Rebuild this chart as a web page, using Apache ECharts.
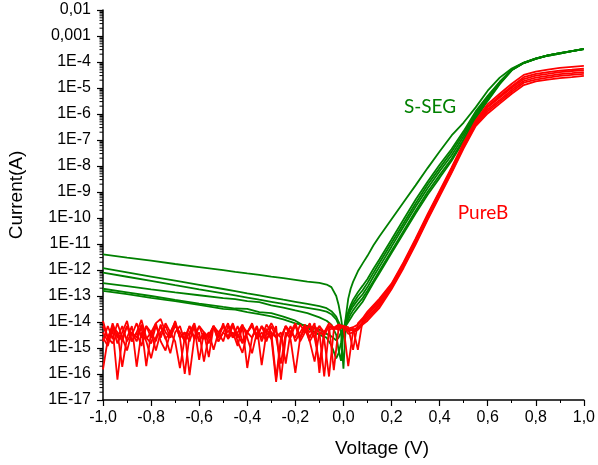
<!DOCTYPE html>
<html>
<head>
<meta charset="utf-8">
<script src="https://cdn.jsdelivr.net/npm/echarts@6/dist/echarts.min.js"></script>
<style>
  html, body { margin: 0; padding: 0; background: #fff; }
  #chart { width: 598px; height: 465px; }
</style>
</head>
<body>
<div id="chart"></div>
<script>
// ---- x tick labels ----
const voltageTicks = [-1.0, -0.8, -0.6, -0.4, -0.2, 0.0, 0.2, 0.4, 0.6, 0.8, 1.0];

// ---- S-SEG diodes: sweep voltages (V) ----
const segVoltage = [
  -1.0, -0.9, -0.8, -0.7, -0.6, -0.5, -0.45, -0.4, -0.35, -0.3, -0.25, -0.2, -0.15, -0.1, -0.07, -0.05, -0.03, -0.02, -0.01, 0.0,
  0.01, 0.02, 0.03, 0.04, 0.06, 0.08, 0.1, 0.125, 0.15, 0.2, 0.25, 0.3, 0.35, 0.4, 0.45, 0.5, 0.55, 0.6, 0.65, 0.7, 0.75, 0.8, 0.85, 0.9, 0.95, 1.0
];
// S-SEG currents (A)
const segI1 = [
  4.0e-12, 3.0e-12, 2.3e-12, 1.7e-12, 1.29e-12, 9.8e-13, 8.5e-13, 7.4e-13, 6.5e-13, 5.6e-13, 4.9e-13, 4.2e-13, 3.6e-13, 3.2e-13, 2.75e-13, 2.2e-13, 1.0e-13, 4.5e-14, 1.4e-14, 3.2e-15,
  1.6e-14, 7.9e-14, 1.9e-13, 3.5e-13, 8.9e-13, 1.8e-12, 3.5e-12, 8.9e-12, 2.0e-11, 8.9e-11, 4.0e-10, 1.8e-9, 8.3e-9, 3.6e-8, 1.5e-7, 4.7e-7, 1.8e-6, 7.9e-6, 2.5e-5, 5.6e-5, 9.5e-5, 1.38e-4, 1.78e-4, 2.2e-4, 2.6e-4, 3.2e-4
];
const segI2 = [
  1.17e-12, 8.1e-13, 5.6e-13, 3.9e-13, 2.7e-13, 1.86e-13, 1.55e-13, 1.26e-13, 1.05e-13, 8.7e-14, 7.2e-14, 6.0e-14, 5.0e-14, 4.1e-14, 3.4e-14, 2.6e-14, 1.6e-14, 1.0e-14, 6.3e-15, 5.0e-15,
  1.26e-14, 2.5e-14, 4.5e-14, 7.1e-14, 1.4e-13, 2.5e-13, 4.5e-13, 1.12e-12, 2.6e-12, 1.5e-11, 8.7e-11, 5.0e-10, 2.5e-9, 1.12e-8, 4.5e-8, 2.2e-7, 1.26e-6, 5.0e-6, 1.74e-5, 5.1e-5, 9.3e-5, 1.35e-4, 1.78e-4, 2.2e-4, 2.6e-4, 3.15e-4
];
const segI3 = [
  7.9e-13, 5.5e-13, 3.8e-13, 2.6e-13, 1.8e-13, 1.26e-13, 1.05e-13, 8.7e-14, 7.2e-14, 6.0e-14, 5.0e-14, 4.2e-14, 3.5e-14, 2.9e-14, 2.5e-14, 2.0e-14, 1.26e-14, 7.9e-15, 4.0e-15, 1.6e-16,
  7.9e-15, 2.0e-14, 3.5e-14, 5.2e-14, 1.0e-13, 1.66e-13, 3.2e-13, 7.9e-13, 1.9e-12, 1.1e-11, 6.3e-11, 3.6e-10, 1.9e-9, 8.3e-9, 3.5e-8, 1.78e-7, 1.05e-6, 4.5e-6, 1.66e-5, 5.0e-5, 9.3e-5, 1.35e-4, 1.78e-4, 2.2e-4, 2.6e-4, 3.2e-4
];
const segI4 = [
  3.1e-13, 2.4e-13, 1.8e-13, 1.38e-13, 1.07e-13, 8.3e-14, 7.6e-14, 6.3e-14, 5.8e-14, 4.4e-14, 3.6e-14, 2.8e-14, 2.2e-14, 1.5e-14, 1.12e-14, 7.9e-15, 3.2e-15, 7.9e-16, 3.2e-16, 4.0e-15,
  1.0e-14, 1.78e-14, 2.8e-14, 4.0e-14, 7.1e-14, 1.17e-13, 2.2e-13, 5.6e-13, 1.35e-12, 7.9e-12, 4.7e-11, 2.7e-10, 1.4e-9, 6.3e-9, 2.6e-8, 1.4e-7, 8.9e-7, 4.0e-6, 1.58e-5, 5.0e-5, 9.3e-5, 1.35e-4, 1.78e-4, 2.2e-4, 2.6e-4, 3.2e-4
];
const segI5 = [
  1.9e-13, 1.38e-13, 1.0e-13, 7.1e-14, 5.1e-14, 3.8e-14, 3.3e-14, 3.2e-14, 2.4e-14, 2.2e-14, 1.6e-14, 1.12e-14, 6.0e-15, 3.2e-15, 2.5e-15, 1.26e-15, 4.0e-16, 6.3e-16, 1.6e-15, 5.0e-15,
  7.9e-15, 1.26e-14, 2.0e-14, 2.8e-14, 5.0e-14, 8.3e-14, 1.58e-13, 3.8e-13, 9.3e-13, 5.4e-12, 3.2e-11, 1.86e-10, 1.0e-9, 4.5e-9, 1.9e-8, 1.07e-7, 7.4e-7, 3.5e-6, 1.5e-5, 4.9e-5, 9.1e-5, 1.32e-4, 1.74e-4, 2.1e-4, 2.6e-4, 3.1e-4
];
const segI6 = [
  1.58e-13, 1.17e-13, 8.5e-14, 6.3e-14, 4.6e-14, 3.2e-14, 3.0e-14, 2.4e-14, 2.0e-14, 1.66e-14, 1.26e-14, 8.9e-15, 7.1e-15, 5.0e-15, 3.5e-15, 2.8e-15, 2.0e-15, 2.5e-15, 4.0e-15, 6.3e-15,
  7.1e-15, 1.0e-14, 1.4e-14, 2.0e-14, 3.5e-14, 6.0e-14, 1.26e-13, 3.2e-13, 7.6e-13, 4.5e-12, 2.6e-11, 1.5e-10, 7.9e-10, 3.5e-9, 1.58e-8, 9.3e-8, 6.6e-7, 3.2e-6, 1.4e-5, 4.8e-5, 9.1e-5, 1.32e-4, 1.74e-4, 2.1e-4, 2.6e-4, 3.1e-4
];

// ---- PureB diodes: sweep voltages (V) ----
const pureVoltage = [
  -1.00, -0.98, -0.96, -0.94, -0.92, -0.90, -0.88, -0.86, -0.84, -0.82, -0.80, -0.78, -0.76, -0.74, -0.72, -0.70, -0.68,
  -0.66, -0.64, -0.62, -0.60, -0.58, -0.56, -0.54, -0.52, -0.50, -0.48, -0.46, -0.44, -0.42, -0.40, -0.38, -0.36, -0.34,
  -0.32, -0.30, -0.28, -0.26, -0.24, -0.22, -0.20, -0.18, -0.16, -0.14, -0.12, -0.10, -0.08, -0.06, -0.04, -0.02, 0.00,
  0.02, 0.04, 0.06, 0.08, 0.10, 0.125, 0.15, 0.20, 0.25, 0.30, 0.35, 0.40, 0.45, 0.50, 0.55, 0.60, 0.65, 0.70, 0.75, 0.80, 0.85, 0.90, 0.95, 1.00
];
// PureB currents (A)
const pureI1 = [
  1.5e-16, 2.2e-15, 7e-15, 1.5e-15, 4e-15, 1.1e-14, 1.8e-15, 4e-15, 1.2e-15, 7e-15, 2.5e-15, 9e-15, 1.8e-15, 8e-16, 4e-15, 9e-15, 2.5e-15,
  1e-16, 3.2e-15, 7e-15, 1.8e-15, 4e-15, 1.5e-15, 7e-15, 2.5e-15, 9e-15, 2.2e-15, 4e-15, 1.2e-15, 7e-15, 1.7e-16, 2.5e-15, 7e-15, 1.8e-15,
  5.5e-15, 2.5e-15, 5e-17, 1.8e-15, 7e-15, 2.5e-15, 8e-15, 1.8e-15, 4e-15, 9e-15, 2.5e-15, 2.5e-16, 4e-15, 7e-15, 6e-15, 5.5e-15, 7e-15,
  6.3e-15, 8.5e-16, 8.9e-15, 1.4e-14, 2.5e-14, 4.5e-14, 7.9e-14, 3.0e-13, 2.0e-12, 1.6e-11, 1.4e-10, 1.1e-9, 8.9e-9, 7.9e-8, 5.6e-7, 2.4e-6, 6.0e-6, 1.45e-5, 3.2e-5, 4.3e-5, 5.1e-5, 5.9e-5, 6.5e-5, 7.1e-5
];
const pureI2 = [
  2.5e-15, 1.2e-15, 5.5e-15, 6e-17, 2.5e-15, 7e-15, 1.8e-15, 4e-15, 1.2e-14, 2.5e-15, 1.5e-15, 7e-15, 2.5e-15, 9e-15, 4e-15, 1.8e-15, 1.7e-16,
  2.5e-15, 7e-15, 2.2e-15, 4e-15, 3e-16, 3.2e-15, 7e-15, 1.8e-15, 4e-15, 9e-15, 2.5e-15, 7e-15, 1.8e-15, 4e-15, 2.5e-15, 7e-15, 2.2e-16,
  4e-15, 2.2e-15, 7e-15, 6e-17, 2.5e-15, 7e-15, 1.8e-15, 4e-15, 8e-15, 2.5e-15, 7e-15, 4e-15, 8e-17, 5e-15, 6e-15, 8e-15, 6e-15,
  5.6e-15, 6.3e-15, 7.9e-15, 1.26e-14, 2.1e-14, 3.8e-14, 6.8e-14, 2.7e-13, 1.8e-12, 1.4e-11, 1.26e-10, 1.0e-9, 7.9e-9, 7.1e-8, 5.0e-7, 2.0e-6, 4.9e-6, 1.17e-5, 2.6e-5, 3.5e-5, 4.1e-5, 4.7e-5, 5.1e-5, 5.6e-5
];
const pureI3 = [
  7e-15, 2.5e-15, 1.5e-15, 4e-15, 1.9e-16, 2.5e-15, 7e-15, 1.9e-16, 4e-15, 1.8e-15, 4e-16, 2.5e-15, 7e-15, 2.2e-15, 4e-15, 1e-14, 2.5e-15,
  4e-15, 9e-17, 2.5e-15, 7e-15, 2.2e-15, 4e-15, 8.5e-16, 4e-15, 7e-15, 2.5e-15, 8e-15, 1.8e-15, 6.5e-16, 4e-15, 7e-15, 2.5e-15, 7e-15,
  2.2e-15, 4e-15, 2.5e-15, 2.5e-16, 4e-15, 2.2e-15, 1.1e-16, 2.5e-15, 7e-15, 1.8e-15, 4e-15, 7e-15, 2.2e-15, 8e-17, 5e-15, 7e-15, 6e-15,
  5.0e-15, 5.6e-15, 8.5e-16, 1.17e-14, 1.9e-14, 3.4e-14, 5.9e-14, 2.5e-13, 1.66e-12, 1.32e-11, 1.17e-10, 9.3e-10, 7.4e-9, 6.6e-8, 4.7e-7, 1.8e-6, 4.3e-6, 1.02e-5, 2.2e-5, 3.0e-5, 3.5e-5, 4.1e-5, 4.5e-5, 4.9e-5
];
const pureI4 = [
  1.8e-15, 7e-15, 2.2e-15, 9e-15, 2.5e-15, 8e-16, 4e-15, 1.8e-15, 7e-15, 2e-16, 4e-15, 1.8e-15, 8e-15, 2.5e-15, 6.3e-16, 4e-15, 7e-15,
  1.8e-15, 4e-15, 9e-15, 1.8e-15, 4e-15, 2.5e-15, 7e-15, 1.8e-15, 4e-15, 2.5e-15, 7e-15, 3.2e-15, 1.5e-15, 4e-15, 9e-15, 2.2e-15, 4e-15,
  1.8e-15, 7e-15, 2.5e-15, 4e-15, 2.5e-16, 4e-15, 7e-15, 2.5e-15, 5.5e-15, 1.8e-15, 3e-16, 4e-15, 3e-15, 7e-15, 1.4e-16, 6e-15, 7e-15,
  4.5e-15, 5.0e-15, 6.3e-15, 1.0e-14, 1.6e-14, 2.8e-14, 5.0e-14, 2.2e-13, 1.48e-12, 1.17e-11, 1.05e-10, 8.3e-10, 6.6e-9, 5.9e-8, 4.2e-7, 1.5e-6, 3.5e-6, 8.5e-6, 1.86e-5, 2.5e-5, 2.95e-5, 3.4e-5, 3.7e-5, 4.1e-5
];
const pureI5 = [
  4e-15, 1.8e-15, 9e-15, 2.5e-15, 7e-15, 1.8e-15, 4e-15, 2.5e-15, 8e-15, 2.2e-15, 4e-15, 9e-15, 1.3e-14, 4e-15, 2.5e-15, 1.1e-14, 2.5e-15,
  4e-15, 1.8e-15, 7e-15, 3.5e-16, 4e-15, 2.5e-15, 7e-15, 4e-15, 1.8e-15, 7e-15, 2.5e-15, 4e-15, 8e-15, 2.5e-15, 6.3e-16, 4e-15, 2.5e-15,
  8e-15, 4e-15, 7e-17, 2.5e-15, 7e-15, 4e-15, 9e-15, 2.5e-15, 7e-15, 4e-15, 9e-15, 1.1e-16, 4e-15, 7e-15, 5e-15, 8e-15, 7e-15,
  2e-16, 4.5e-15, 5.6e-15, 8.9e-15, 1.35e-14, 2.4e-14, 4.3e-14, 2.0e-13, 1.35e-12, 1.07e-11, 9.5e-11, 7.6e-10, 6.0e-9, 5.4e-8, 3.8e-7, 1.26e-6, 3.0e-6, 7.2e-6, 1.6e-5, 2.1e-5, 2.5e-5, 2.9e-5, 3.2e-5, 3.5e-5
];
const pureI6 = [
  1.1e-14, 2.5e-15, 7e-15, 4e-15, 1.8e-15, 7e-15, 3.2e-15, 9e-15, 2.5e-15, 7e-15, 4e-15, 8e-16, 4e-15, 7e-15, 2.5e-15, 7e-15, 4e-15,
  1.8e-15, 7e-15, 2.5e-15, 7e-15, 4e-15, 4.5e-16, 7e-15, 2.5e-15, 7e-15, 4e-15, 9e-15, 2.5e-15, 7e-15, 4e-15, 8e-15, 2.5e-15, 7e-15,
  4e-15, 9e-15, 4e-15, 2.5e-15, 7e-15, 4e-15, 2.5e-15, 8e-15, 4e-15, 7e-15, 2.5e-15, 7e-15, 4e-15, 9e-15, 6e-15, 5e-15, 7e-15,
  3.5e-15, 4.0e-15, 5.0e-15, 7.9e-15, 1.12e-14, 2.0e-14, 3.5e-14, 1.8e-13, 1.2e-12, 9.5e-12, 8.5e-11, 6.8e-10, 5.4e-9, 4.8e-8, 3.4e-7, 1.05e-6, 2.5e-6, 6.0e-6, 1.3e-5, 1.8e-5, 2.1e-5, 2.4e-5, 2.6e-5, 2.9e-5
];

const segCurves = [segI1, segI2, segI3, segI4, segI5, segI6];
const pureCurves = [pureI1, pureI2, pureI3, pureI4, pureI5, pureI6];

const GREEN = '#008000';
const RED = '#ff0000';
const AXIS_FONT = '"Liberation Sans", Arial, sans-serif';

function pairs(xs, ys) { return xs.map((x, i) => [x, ys[i]]); }

function curveSeries(xs, ys, color) {
  return {
    type: 'line', xAxisIndex: 0, yAxisIndex: 0,
    data: pairs(xs, ys),
    symbol: 'none', smooth: false, silent: true,
    lineStyle: { color: color, width: 1.8 },
    z: color === RED ? 3 : 2
  };
}

// minor ticks of the current axis: 2..9 within each decade
const minorTickValues = [];
for (let e = -17; e <= -3; e++) {
  for (let k = 2; k <= 9; k++) minorTickValues.push([-1, k * Math.pow(10, e)]);
}

function expLabel(v) {
  if (v === -2) return '0,01';
  if (v === -3) return '0,001';
  return '1E' + v;
}

const chart = echarts.init(document.getElementById('chart'), null, { renderer: 'canvas' });
chart.setOption({
  animation: false,
  backgroundColor: '#ffffff',
  grid: { left: 103, right: 11, top: 10, bottom: 65 },
  xAxis: {
    type: 'value', min: -1, max: 1, interval: 0.2,
    axisLine: { onZero: false, lineStyle: { color: '#000', width: 1.5 } },
    axisTick: { length: 6, lineStyle: { color: '#000', width: 1.2 },
                customValues: voltageTicks },
    minorTick: { show: true, splitNumber: 2, length: 3, lineStyle: { color: '#000', width: 1 } },
    axisLabel: {
      margin: 10, color: '#000', fontSize: 16, fontFamily: AXIS_FONT,
      formatter: v => v.toFixed(1).replace('.', ',')
    },
    splitLine: { show: false }
  },
  yAxis: [
    {
      type: 'log', logBase: 10, min: 1e-17, max: 1e-2,
      axisLine: { show: false }, axisTick: { show: false },
      axisLabel: { show: false }, splitLine: { show: false }
    },
    {
      type: 'value', min: -17, max: -2, interval: 1, position: 'left',
      axisLine: { show: true, onZero: false, lineStyle: { color: '#000', width: 1.5 } },
      axisTick: { show: true, length: 6, lineStyle: { color: '#000', width: 1.2 } },
      axisLabel: { margin: 12, color: '#000', fontSize: 16, fontFamily: AXIS_FONT, formatter: expLabel },
      splitLine: { show: false }
    }
  ],
  series: [
    ...segCurves.map(c => curveSeries(segVoltage, c, GREEN)),
    ...pureCurves.map(c => curveSeries(pureVoltage, c, RED)),
    {
      type: 'custom', xAxisIndex: 0, yAxisIndex: 0, silent: true, clip: false,
      data: minorTickValues,
      renderItem: (params, api) => {
        const p = api.coord([api.value(0), api.value(1)]);
        return {
          type: 'line',
          shape: { x1: p[0] - 3.5, y1: p[1], x2: p[0], y2: p[1] },
          style: { stroke: '#000', lineWidth: 1 }
        };
      }
    }
  ],
  graphic: [
    { type: 'text', left: 335, top: 439,
      style: { text: 'Voltage (V)', font: '19px ' + AXIS_FONT, fill: '#000' } },
    { type: 'text', x: 17, y: 195, rotation: Math.PI / 2,
      style: { text: 'Current(A)', font: '19px ' + AXIS_FONT, fill: '#000', align: 'center', verticalAlign: 'middle' } },
    { type: 'text', x: 430, y: 107,
      style: { text: 'S-SEG', font: '19px Lato, "Open Sans", sans-serif', fill: GREEN, align: 'center', verticalAlign: 'middle' } },
    { type: 'text', x: 483, y: 213,
      style: { text: 'PureB', font: '19px Lato, "Open Sans", sans-serif', fill: RED, align: 'center', verticalAlign: 'middle' } }
  ]
});
</script>
</body>
</html>
